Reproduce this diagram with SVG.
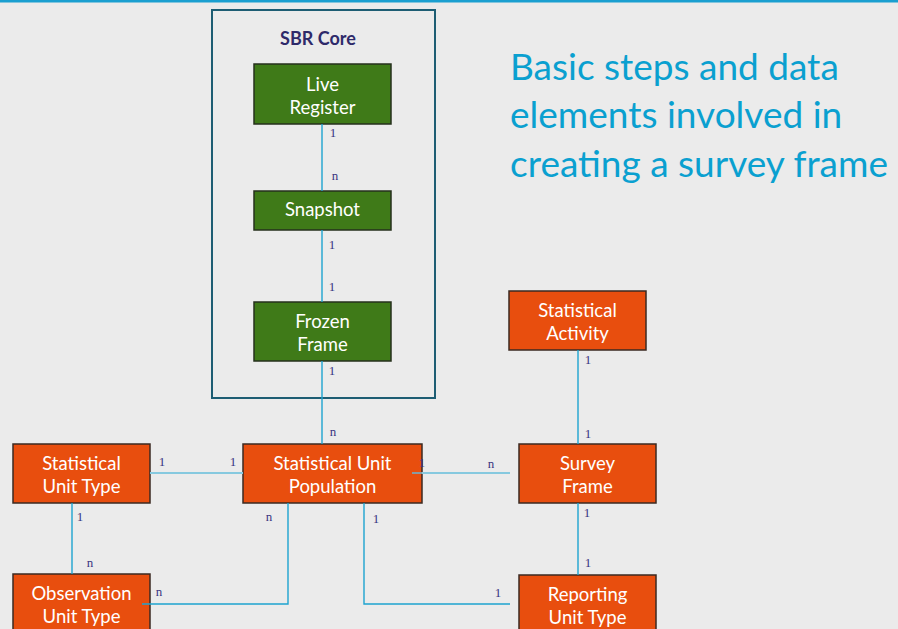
<svg xmlns="http://www.w3.org/2000/svg" width="898" height="629" viewBox="0 0 898 629">
  <style>
    .bg { fill: #ebebeb; }
    .core { fill: none; stroke: #1d5d73; stroke-width: 2; }
    .green { fill: #3f7a18; stroke: #26301c; stroke-width: 1.5; }
    .orange { fill: #e84e0e; stroke: #3b2a22; stroke-width: 1.5; }
    .lbl { font-family: Lato, "Liberation Sans", sans-serif; font-size: 18.5px; fill: #ffffff; text-anchor: middle; }
    .card { font-family: "Liberation Serif", serif; font-size: 13px; fill: #3a3580; text-anchor: middle; }
    .wire { fill: none; stroke: #1ea4d0; stroke-width: 1.4; }
    .wire-soft { fill: none; stroke: #86c9df; stroke-width: 2; }
    .title { font-family: Lato, "Liberation Sans", sans-serif; font-size: 37px; fill: #0aa0d0; }
  </style>

  <rect class="bg" x="0" y="0" width="898" height="629"/>
  <rect x="0" y="0" width="898" height="2.5" fill="#1a9fd0"/>

  <!-- heading -->
  <text class="title" x="510" y="80">Basic steps and data</text>
  <text class="title" x="510" y="128">elements involved in</text>
  <text class="title" x="510" y="177">creating a survey frame</text>

  <!-- SBR core container -->
  <g id="sbr-core">
    <rect class="core" x="212" y="10" width="223" height="388"/>
    <text x="318" y="45" font-family="Lato, 'Liberation Sans', sans-serif" font-weight="bold" font-size="18px" fill="#2e2a6a" text-anchor="middle">SBR Core</text>
  </g>

  <g id="live-register">
    <rect class="green" x="254" y="64" width="137" height="60"/>
    <text class="lbl" x="322.5" y="91">Live</text>
    <text class="lbl" x="322.5" y="114">Register</text>
  </g>

  <g id="snapshot">
    <rect class="green" x="254" y="191" width="137" height="39"/>
    <text class="lbl" x="322.5" y="216">Snapshot</text>
  </g>

  <g id="frozen-frame">
    <rect class="green" x="254" y="302" width="137" height="59"/>
    <text class="lbl" x="322.5" y="328">Frozen</text>
    <text class="lbl" x="322.5" y="351">Frame</text>
  </g>

  <g id="statistical-unit-type">
    <rect class="orange" x="13" y="444" width="137" height="59"/>
    <text class="lbl" x="81.5" y="470">Statistical</text>
    <text class="lbl" x="81.5" y="493">Unit Type</text>
  </g>

  <g id="statistical-unit-population">
    <rect class="orange" x="243" y="444" width="179" height="59"/>
    <text class="lbl" x="332.5" y="470">Statistical Unit</text>
    <text class="lbl" x="332.5" y="493">Population</text>
  </g>

  <g id="statistical-activity">
    <rect class="orange" x="509" y="291" width="137" height="59"/>
    <text class="lbl" x="577.5" y="317">Statistical</text>
    <text class="lbl" x="577.5" y="340">Activity</text>
  </g>

  <g id="survey-frame">
    <rect class="orange" x="519" y="444" width="137" height="59"/>
    <text class="lbl" x="587.5" y="470">Survey</text>
    <text class="lbl" x="587.5" y="493">Frame</text>
  </g>

  <g id="observation-unit-type">
    <rect class="orange" x="13" y="574" width="137" height="60"/>
    <text class="lbl" x="81.5" y="600">Observation</text>
    <text class="lbl" x="81.5" y="623">Unit Type</text>
  </g>

  <g id="reporting-unit-type">
    <rect class="orange" x="519" y="575" width="137" height="60"/>
    <text class="lbl" x="587.5" y="601">Reporting</text>
    <text class="lbl" x="587.5" y="624">Unit Type</text>
  </g>

  <!-- relationships -->
  <g id="connectors">
    <path class="wire" d="M322 124 V191"/>
    <path class="wire" d="M322 230 V302"/>
    <path class="wire" d="M322 361 V444"/>
    <path class="wire-soft" d="M150 473 H243"/>
    <path d="M412 473 H422" fill="none" stroke="#8a9aa0" stroke-width="2"/>
    <path class="wire-soft" d="M422 473 H510"/>
    <path class="wire" d="M72 503 V574"/>
    <path class="wire" d="M142 604 H288 V503"/>
    <path class="wire" d="M364 503 V604 H510"/>
    <path class="wire" d="M578 350 V444"/>
    <path class="wire" d="M578 503 V575"/>
  </g>

  <!-- cardinalities -->
  <g id="cardinalities">
    <text class="card" x="333" y="137">1</text>
    <text class="card" x="335" y="180">n</text>
    <text class="card" x="332" y="249">1</text>
    <text class="card" x="332" y="291">1</text>
    <text class="card" x="332" y="375">1</text>
    <text class="card" x="333" y="436">n</text>
    <text class="card" x="162" y="466">1</text>
    <text class="card" x="233" y="466">1</text>
    <text class="card" x="422" y="467">1</text>
    <text class="card" x="491" y="468">n</text>
    <text class="card" x="80" y="521">1</text>
    <text class="card" x="90" y="567">n</text>
    <text class="card" x="269" y="521">n</text>
    <text class="card" x="376" y="523">1</text>
    <text class="card" x="159" y="596">n</text>
    <text class="card" x="498" y="597">1</text>
    <text class="card" x="588" y="364">1</text>
    <text class="card" x="588" y="438">1</text>
    <text class="card" x="587" y="517">1</text>
    <text class="card" x="588" y="567">1</text>
  </g>
</svg>
